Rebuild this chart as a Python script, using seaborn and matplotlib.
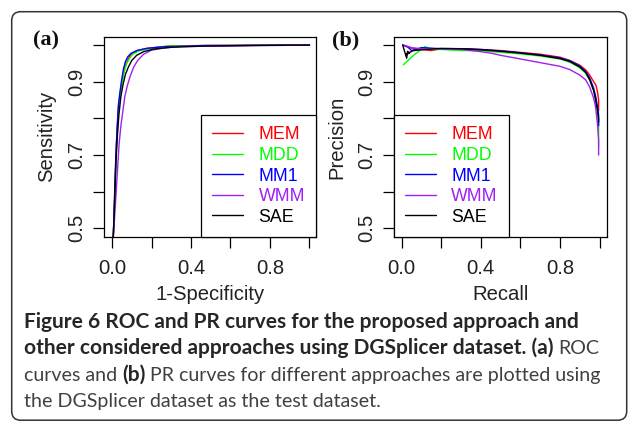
import numpy as np
import pandas as pd
import matplotlib
matplotlib.use("Agg")
import matplotlib.pyplot as plt
import seaborn as sns
from matplotlib.patches import FancyBboxPatch
from matplotlib.transforms import IdentityTransform

# ---------------- data ----------------
methods = ["MEM", "MDD", "MM1", "WMM", "SAE"]
colors = ["#FF0000", "#00FF00", "#0000FF", "#A020F0", "#000000"]

# ROC curves (1-Specificity, Sensitivity)
roc_fpr_MEM = [0.005, 0.010, 0.015, 0.020, 0.026, 0.033, 0.042, 0.050, 0.060, 0.072, 0.085, 0.100, 0.130, 0.180, 0.250, 0.300, 1.0]
roc_tpr_MEM = [0.460, 0.530, 0.620, 0.700, 0.770, 0.830, 0.870, 0.900, 0.930, 0.950, 0.965, 0.976, 0.985, 0.991, 0.995, 0.998, 1.0]
roc_fpr_MDD = [0.005, 0.010, 0.015, 0.021, 0.027, 0.034, 0.043, 0.051, 0.062, 0.074, 0.088, 0.104, 0.135, 0.185, 0.250, 0.290, 1.0]
roc_tpr_MDD = [0.460, 0.525, 0.615, 0.695, 0.765, 0.825, 0.868, 0.898, 0.928, 0.949, 0.963, 0.975, 0.984, 0.990, 0.995, 0.998, 1.0]
roc_fpr_MM1 = [0.005, 0.010, 0.015, 0.020, 0.026, 0.032, 0.041, 0.049, 0.058, 0.068, 0.080, 0.095, 0.125, 0.175, 0.250, 0.470, 0.590, 1.0]
roc_tpr_MM1 = [0.460, 0.530, 0.625, 0.705, 0.775, 0.835, 0.875, 0.905, 0.935, 0.955, 0.968, 0.977, 0.985, 0.991, 0.995, 0.999, 0.999, 1.0]
roc_fpr_WMM = [0.005, 0.012, 0.020, 0.028, 0.036, 0.045, 0.055, 0.065, 0.078, 0.092, 0.110, 0.130, 0.160, 0.200, 0.260, 0.350, 1.0]
roc_tpr_WMM = [0.460, 0.520, 0.590, 0.660, 0.730, 0.780, 0.820, 0.860, 0.890, 0.915, 0.940, 0.958, 0.975, 0.986, 0.992, 0.996, 1.0]
roc_fpr_SAE = [0.005, 0.010, 0.015, 0.020, 0.027, 0.035, 0.045, 0.055, 0.068, 0.083, 0.100, 0.125, 0.160, 0.210, 0.300, 0.450, 0.700, 1.0]
roc_tpr_SAE = [0.460, 0.520, 0.600, 0.680, 0.750, 0.810, 0.860, 0.890, 0.920, 0.940, 0.958, 0.972, 0.982, 0.989, 0.994, 0.997, 0.999, 1.0]

# PR curves (Recall, Precision)
pr_rec_MEM = [0.005, 0.030, 0.060, 0.100, 0.150, 0.200, 0.300, 0.400, 0.500, 0.600, 0.700, 0.800, 0.850, 0.900, 0.930, 0.950, 0.970, 0.982, 0.990, 0.995, 0.995]
pr_pre_MEM = [1.000, 0.995, 0.990, 0.988, 0.985, 0.990, 0.990, 0.988, 0.985, 0.980, 0.975, 0.967, 0.958, 0.945, 0.932, 0.918, 0.900, 0.890, 0.870, 0.850, 0.820]
pr_rec_MDD = [0.008, 0.060, 0.118, 0.150, 0.200, 0.300, 0.400, 0.500, 0.600, 0.700, 0.800, 0.850, 0.900, 0.930, 0.950, 0.970, 0.980, 0.990, 0.995, 0.995]
pr_pre_MDD = [0.946, 0.972, 0.996, 0.988, 0.988, 0.985, 0.985, 0.980, 0.976, 0.970, 0.962, 0.953, 0.938, 0.923, 0.905, 0.878, 0.855, 0.820, 0.780, 0.720]
pr_rec_MM1 = [0.005, 0.030, 0.050, 0.100, 0.200, 0.300, 0.400, 0.500, 0.600, 0.700, 0.800, 0.850, 0.900, 0.930, 0.950, 0.970, 0.980, 0.990, 0.995, 0.995]
pr_pre_MM1 = [1.000, 0.995, 0.985, 0.993, 0.990, 0.990, 0.988, 0.984, 0.979, 0.973, 0.965, 0.957, 0.943, 0.928, 0.910, 0.882, 0.860, 0.830, 0.810, 0.780]
pr_rec_WMM = [0.010, 0.050, 0.100, 0.200, 0.300, 0.400, 0.450, 0.500, 0.600, 0.700, 0.800, 0.850, 0.900, 0.930, 0.950, 0.970, 0.980, 0.990, 0.995, 0.995]
pr_pre_WMM = [1.000, 0.993, 0.990, 0.990, 0.988, 0.982, 0.978, 0.972, 0.962, 0.952, 0.942, 0.933, 0.918, 0.905, 0.885, 0.855, 0.830, 0.780, 0.740, 0.700]
pr_rec_SAE = [0.005, 0.025, 0.030, 0.040, 0.020, 0.060, 0.100, 0.200, 0.300, 0.400, 0.500, 0.600, 0.700, 0.800, 0.850, 0.900, 0.930, 0.950, 0.970, 0.980, 0.990, 0.995, 0.995]
pr_pre_SAE = [1.000, 0.964, 0.983, 0.978, 0.975, 0.985, 0.987, 0.991, 0.990, 0.987, 0.983, 0.978, 0.972, 0.963, 0.955, 0.940, 0.925, 0.905, 0.875, 0.850, 0.820, 0.800, 0.790]

roc = {"MEM": (roc_fpr_MEM, roc_tpr_MEM), "MDD": (roc_fpr_MDD, roc_tpr_MDD),
       "MM1": (roc_fpr_MM1, roc_tpr_MM1), "WMM": (roc_fpr_WMM, roc_tpr_WMM),
       "SAE": (roc_fpr_SAE, roc_tpr_SAE)}
pr = {"MEM": (pr_rec_MEM, pr_pre_MEM), "MDD": (pr_rec_MDD, pr_pre_MDD),
      "MM1": (pr_rec_MM1, pr_pre_MM1), "WMM": (pr_rec_WMM, pr_pre_WMM),
      "SAE": (pr_rec_SAE, pr_pre_SAE)}

y_ticks = [0.5, 0.6, 0.7, 0.8, 0.9, 1.0]
y_ticklabels = ["0.5", "", "0.7", "", "0.9", ""]
x_ticks = [0.0, 0.2, 0.4, 0.6, 0.8, 1.0]
x_ticklabels = ["0.0", "", "0.4", "", "0.8", ""]


def long_df(d):
    rows = []
    for m in methods:
        xs, ys = d[m]
        for i, (x, y) in enumerate(zip(xs, ys)):
            rows.append({"x": x, "y": y, "method": m, "order": i})
    return pd.DataFrame(rows)


df_roc = long_df(roc)
df_pr = long_df(pr)

# ---------------- figure ----------------
W, H = 629, 421
sns.set_style("white")
plt.rcParams["font.family"] = ["Liberation Sans", "DejaVu Sans"]
fig = plt.figure(figsize=(W / 100, H / 100), dpi=100)
fig.patch.set_facecolor("white")

FS = 14.6
TXT_C = "#222222"


def ax_rect(l, t, r, b):
    return [l / W, 1 - b / H, (r - l) / W, (b - t) / H]


axA = fig.add_axes(ax_rect(104, 37, 316, 236.7))
axB = fig.add_axes(ax_rect(394.3, 37, 606.7, 236.7))
palette = dict(zip(methods, colors))


def draw(ax, df, xlabel, ylabel, xlim, legend_loc):
    sns.lineplot(data=df, x="x", y="y", hue="method", hue_order=methods,
                 palette=palette, sort=False, estimator=None, units="method",
                 legend=False, linewidth=1.0, ax=ax)
    ax.set_xlim(*xlim)
    ax.set_ylim(0.477, 1.022)
    ax.set_xticks(x_ticks)
    ax.set_xticklabels(x_ticklabels)
    ax.set_yticks(y_ticks)
    ax.set_yticklabels(y_ticklabels, rotation=90, va="center")
    ax.tick_params(axis="both", direction="out", length=8, width=0.9,
                   color="black", labelsize=FS, labelcolor=TXT_C,
                   left=True, bottom=True)
    ax.tick_params(axis="x", pad=8)
    ax.tick_params(axis="y", pad=5)
    for s in ax.spines.values():
        s.set_visible(True)
        s.set_color("black")
        s.set_linewidth(0.9)
    ax.set_xlabel(xlabel, fontsize=FS, color=TXT_C, va="center")
    ax.set_ylabel(ylabel, fontsize=FS, color=TXT_C, va="center")
    ax.xaxis.set_label_coords(0.5, -(294 - 236.7) / 199.7)
    ax.yaxis.set_label_coords(-57.5 / 212.0, 0.5)
    handles = ax.get_lines()[:len(methods)]
    leg = ax.legend(handles, methods, loc=legend_loc, borderaxespad=0,
                    frameon=True, fancybox=False, edgecolor="black",
                    framealpha=1, fontsize=12.8, handlelength=1.74,
                    handletextpad=0.85, labelspacing=0.2, borderpad=0.62,
                    labelcolor="linecolor")
    leg.get_frame().set_linewidth(0.9)
    ax.set_facecolor("white")


draw(axA, df_roc, "1-Specificity", "Sensitivity",
     ((104 - 112) / 197.5, (316 - 112) / 197.5), "lower right")
draw(axB, df_pr, "Recall", "Precision",
     ((394.3 - 401.7) / 197.9, (606.7 - 401.7) / 197.9), "lower left")

# panel labels
fig.text(33 / W, 1 - 45 / H, "(a)", family=["Liberation Serif", "DejaVu Serif"],
         weight="bold", fontsize=16, ha="left", va="baseline", color="#111111")
fig.text(331.7 / W, 1 - 45 / H, "(b)", family=["Liberation Serif", "DejaVu Serif"],
         weight="bold", fontsize=16, ha="left", va="baseline", color="#111111")

# rounded border
border = FancyBboxPatch((11.7, 0.8), 626.7 - 11.7, (H - 11.7) - 0.8,
                        boxstyle="round,pad=0,rounding_size=9",
                        transform=IdentityTransform(), fill=False,
                        edgecolor="#333333", linewidth=1.1)
fig.patches.append(border)

# caption
renderer = fig.canvas.get_renderer()
cap_family = ["Lato", "DejaVu Sans"]
BOLD_C, REG_C = "#262626", "#404040"
lines = [
    [("Figure 6 ROC and PR curves for the proposed approach and", True)],
    [("other considered approaches using DGSplicer dataset. (a)", True), ("ROC", False)],
    [("curves and", False), ("(b)", True), ("PR curves for different approaches are plotted using", False)],
    [("the DGSplicer dataset as the test dataset.", False)],
]
baselines = [328, 354, 381, 407]


def width_of(txt, bold, size):
    t = fig.text(0, 0, txt, family=cap_family, weight="bold" if bold else "normal", fontsize=size)
    w = t.get_window_extent(renderer).width
    t.remove()
    return w


bold_size = 14 * (583 - 24) / width_of(lines[0][0][0], True, 14)
reg_size = 14 * (380 - 24) / width_of(lines[3][0][0], False, 14)


def space_w(bold, size):
    return width_of("a a", bold, size) - width_of("aa", bold, size)


sp = space_w(False, reg_size)
for segs, base in zip(lines, baselines):
    x = 24.0
    for i, (txt, bold) in enumerate(segs):
        if i > 0:
            x += sp
        size = bold_size if bold else reg_size
        t = fig.text(x / W, 1 - base / H, txt, family=cap_family,
                     weight="bold" if bold else "normal", fontsize=size,
                     color=BOLD_C if bold else REG_C, ha="left", va="baseline")
        x += t.get_window_extent(renderer).width

fig.savefig("out.png", dpi=100, facecolor="white")
